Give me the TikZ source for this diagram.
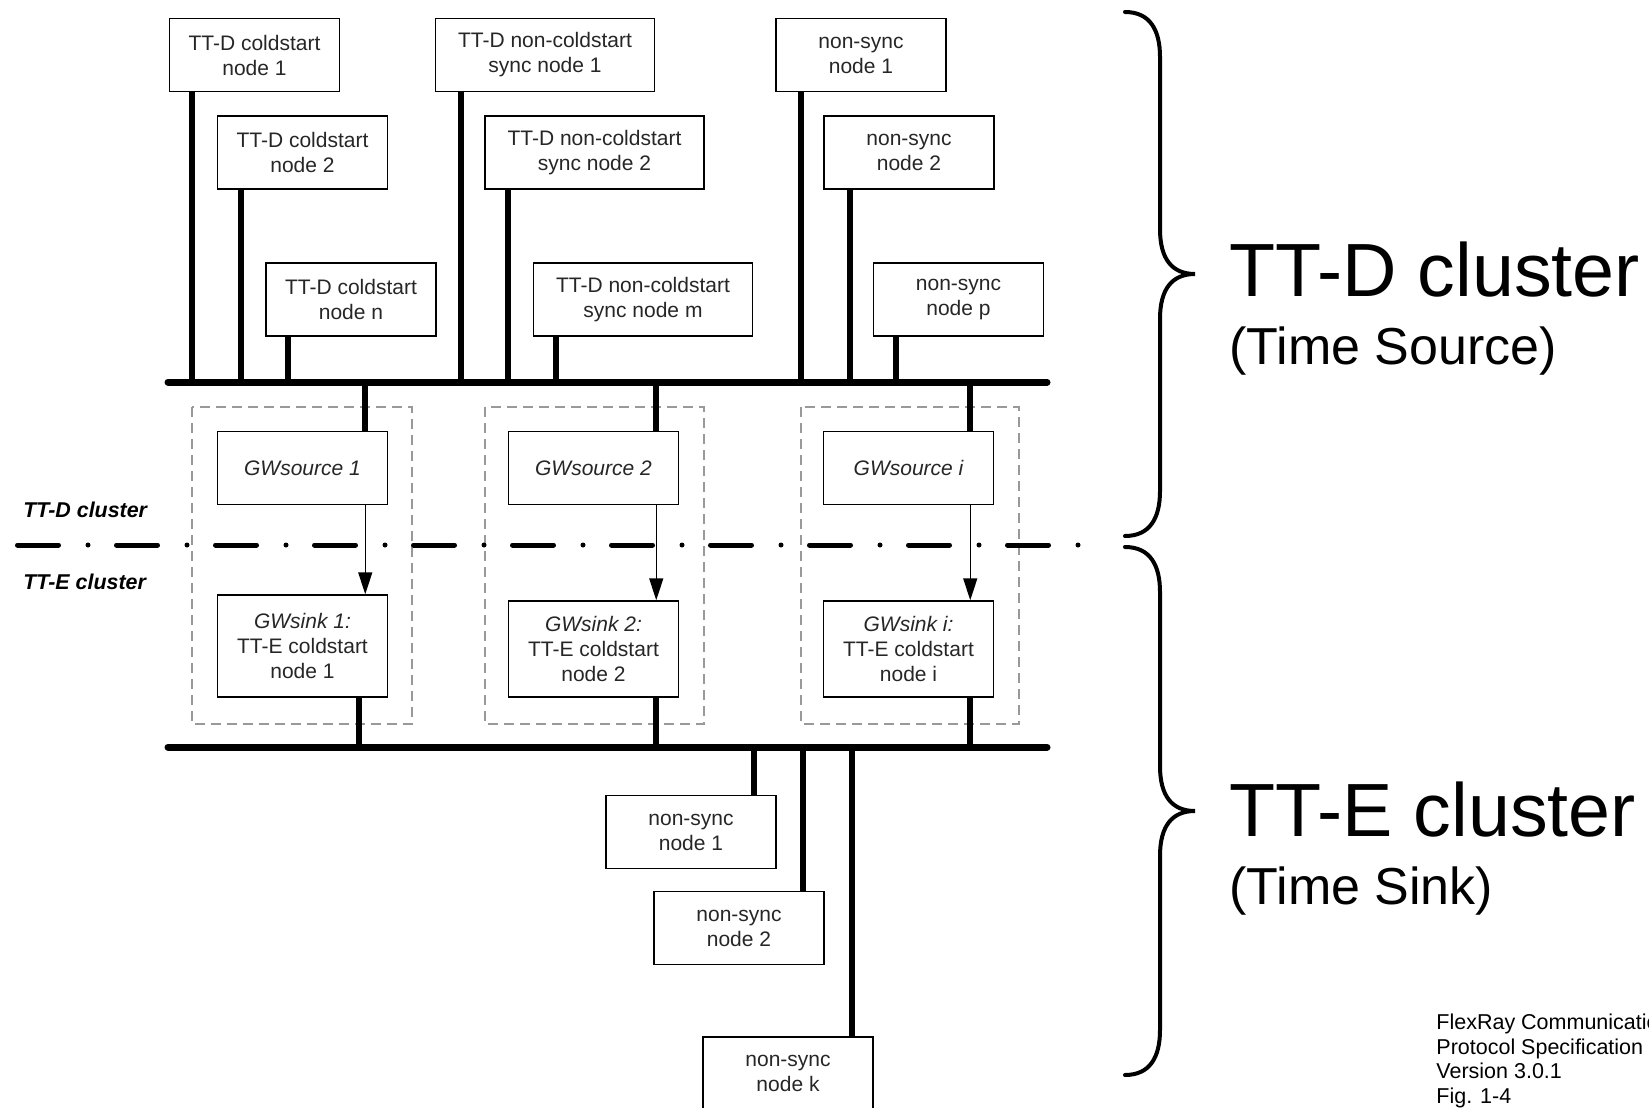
\documentclass[tikz,border=0pt]{standalone}
\usepackage{fontspec}
\setmainfont{Liberation Sans}
\usepackage{tikz}
\usetikzlibrary{arrows.meta}

\begin{document}
\begin{tikzpicture}[
        x=0.5pt, y=-0.5pt,
        nodebox/.style={
            rectangle,
            draw,
            line width=0.75pt,
            minimum width=85pt,
            minimum height=36.5pt,
            inner sep=0pt,
            align=center,
            text=black!85,
            font=\fontsize{10.5}{12.5}\selectfont
        },
        widebox/.style={nodebox, minimum width=109.5pt},
        gwbox/.style={nodebox, font=\itshape\fontsize{10.5}{12.5}\selectfont},
        gwframe/.style={draw=gray!80, line width=1pt, dash pattern=on 5pt off 3pt},
        bus/.style={line width=3.5pt, line cap=round},
        stub/.style={line width=3pt},
        gwarrow/.style={-{Triangle[length=11pt,width=7pt]}, line width=0.75pt},
        cutline/.style={line width=2.5pt, line cap=round,
            dash pattern=on 20.5pt off 14.75pt on 0pt off 14.25pt},
        bigbrace/.style={line width=2pt, line cap=round},
        sidelabel/.style={anchor=west, inner sep=0pt, font=\bfseries\itshape\fontsize{10.7}{12}\selectfont},
        biglabel/.style={anchor=base west, inner sep=0pt, font=\fontsize{37.7}{40}\selectfont},
        sublabel/.style={anchor=base west, inner sep=0pt, font=\fontsize{26}{30}\selectfont}
    ]

    \useasboundingbox (0,0) rectangle (1649,1108);

    % TT-D cluster nodes
    \node (cs1) [nodebox] at (254.5,55) {TT-D coldstart\\node 1};
    \node (cs2) [nodebox] at (302.5,152.5) {TT-D coldstart\\node 2};
    \node (csn) [nodebox] at (351,299.5) {TT-D coldstart\\node n};
    \node (ncs1) [widebox] at (545,55) {TT-D non-coldstart\\sync node 1};
    \node (ncs2) [widebox] at (594.5,152.5) {TT-D non-coldstart\\sync node 2};
    \node (ncsm) [widebox] at (643,299.5) {TT-D non-coldstart\\sync node m};
    \node (ns1) [nodebox] at (861,55) {non-sync\\node 1};
    \node (ns2) [nodebox] at (909,152.5) {non-sync\\node 2};
    \node (nsp) [nodebox] at (958.5,299.5) {non-sync\\node p};

    % gateways
    \draw [gwframe] (192,407) rectangle (412,724);
    \draw [gwframe] (485,407) rectangle (704,724);
    \draw [gwframe] (801,407) rectangle (1019,724);

    \node (src1) [gwbox] at (302.5,468) {GWsource 1};
    \node (src2) [gwbox] at (593.5,468) {GWsource 2};
    \node (srci) [gwbox] at (908.5,468) {GWsource i};
    \node (snk1) [nodebox, minimum height=51pt] at (302.5,646) {\textit{GWsink 1:}\\TT-E coldstart\\node 1};
    \node (snk2) [nodebox, minimum height=48pt] at (593.5,649) {\textit{GWsink 2:}\\TT-E coldstart\\node 2};
    \node (snki) [nodebox, minimum height=48pt] at (908.5,649) {\textit{GWsink i:}\\TT-E coldstart\\node i};

    % TT-E cluster nodes
    \node (nsb1) [nodebox] at (691,832) {non-sync\\node 1};
    \node (nsb2) [nodebox] at (739,928) {non-sync\\node 2};
    \node (nsbk) [nodebox] at (788,1073.5) {non-sync\\node k};

    % buses
    \coordinate (busDw) at (168,382);
    \coordinate (busDe) at (1047,382);
    \coordinate (busEw) at (168,747);
    \coordinate (busEe) at (1047,747);
    \draw [bus] (busDw) -- (busDe);
    \draw [bus] (busEw) -- (busEe);

    \foreach \n/\s in {cs1/11.5, cs2/12, csn/11.5, ncs1/13, ncs2/12, ncsm/11.5, ns1/13, ns2/13.5, nsp/11.5}
        \draw [stub] ([xshift=\s pt]\n.south west) -- ([xshift=\s pt]\n.south west |- busDw);

    \foreach \g/\s/\t/\u in {1/11.5/14.5, 2/11.5/11.5, i/12/12} {
        \draw [stub] ([xshift=-\s pt]src\g.north east) -- ([xshift=-\s pt]src\g.north east |- busDw);
        \draw [gwarrow] ([xshift=-\s pt]src\g.south east) -- ([xshift=-\s pt]src\g.south east |- snk\g.north);
        \draw [stub] ([xshift=-\t pt]snk\g.south east) -- ([xshift=-\t pt]snk\g.south east |- busEw);
    }

    \foreach \n/\s in {nsb1/11.5, nsb2/11, nsbk/11}
        \draw [stub] ([xshift=-\s pt]\n.north east) -- ([xshift=-\s pt]\n.north east |- busEw);

    % cluster border
    \coordinate (cutw) at (17.5,545);
    \coordinate (cute) at (1079,545);
    \draw [cutline] (cutw) -- (cute);
    \node (ttdside) [sidelabel] at (23,510) {TT-D cluster};
    \node (tteside) [sidelabel] at (23,582) {TT-E cluster};

    % braces
    \foreach \t/\m/\b in {12/274/536, 547/811/1075}
        \draw [bigbrace] (1125,\t) .. controls (1150,\t) and (1160,\t+18) .. (1160,\t+45)
            -- (1160,\m-45) .. controls (1160,\m-15) and (1172,\m) .. (1195,\m)
            .. controls (1172,\m) and (1160,\m+15) .. (1160,\m+45)
            -- (1160,\b-45) .. controls (1160,\b-18) and (1150,\b) .. (1125,\b);

    \node (ttd) [biglabel] at (1229,296) {TT-D cluster};
    \node (ttdsub) [sublabel] at (1229,364) {(Time Source)};
    \node (tte) [biglabel] at (1229,836) {TT-E cluster};
    \node (ttesub) [sublabel] at (1229,904) {(Time Sink)};

    \node (spec) [anchor=north west, inner sep=0pt, align=left, font=\fontsize{10.75}{12.25}\selectfont]
        at (1436,1014) {FlexRay Communication\\Protocol Specification\\Version 3.0.1\\Fig. 1-4};

\end{tikzpicture}
\end{document}
